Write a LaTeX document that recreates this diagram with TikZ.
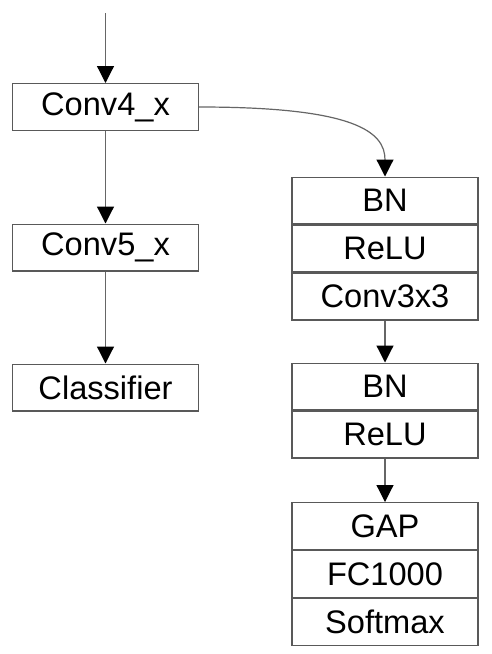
\documentclass[tikz,border=0pt]{standalone}
\usepackage{fontspec}
\setmainfont{Liberation Sans}
\usetikzlibrary{arrows.meta,positioning}

\begin{document}
\begin{tikzpicture}[
  x=0.5pt,
  y=-0.5pt,
  layer/.style={draw=black!65, line width=0.6pt, minimum width=93pt, minimum height=23.4pt, inner sep=0pt, font=\fontsize{16.3}{19}\selectfont},
  flow/.style={draw=black!60, line width=0.6pt, -{Triangle[width=8.5pt,length=8.5pt,black]}}
]
\useasboundingbox (0,0) rectangle (492,654);

% Main path on the left
\coordinate (in) at (105.5,13);
\node[layer] (conv4) at (105.5,107) {Conv4\_x};
\node[layer] (conv5) at (105.5,247.5) {Conv5\_x};
\node[layer] (cls) at (105.5,387.5) {Classifier};

% Side branch on the right, layers stacked without gaps
\node[layer] (bnA) at (385,200.5) {BN};
\node[layer, below=0pt of bnA] (reluA) {ReLU};
\node[layer, below=0pt of reluA] (conv3) {Conv3x3};

\node[layer] (bnB) at (385,386.5) {BN};
\node[layer, below=0pt of bnB] (reluB) {ReLU};

\node[layer] (gap) at (385,526) {GAP};
\node[layer, below=0pt of gap] (fc) {FC1000};
\node[layer, below=0pt of fc] (soft) {Softmax};

% Connectors
\draw[flow] (in) -- (conv4);
\draw[flow] (conv4) -- (conv5);
\draw[flow] (conv5) -- (cls);
\draw[flow] (conv4.east) .. controls +(155,0) and +(0,-45) .. (bnA.north);
\draw[flow] (conv3) -- (bnB);
\draw[flow] (reluB) -- (gap);

\end{tikzpicture}
\end{document}
